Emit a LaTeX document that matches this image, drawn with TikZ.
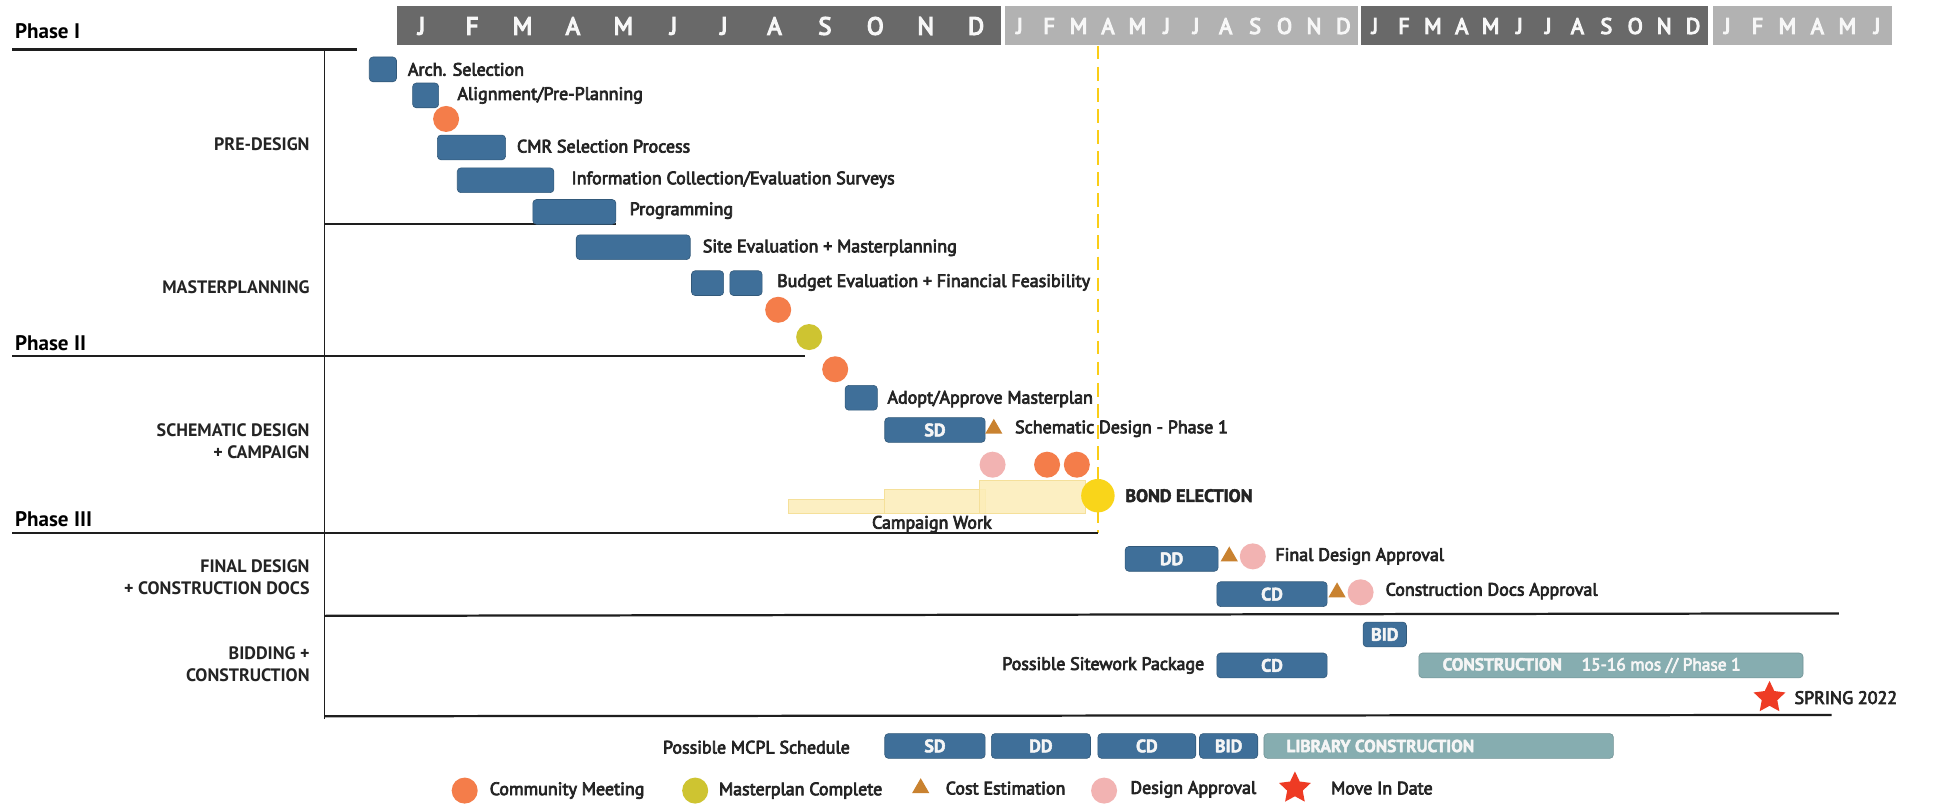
\documentclass[tikz,border=0pt]{standalone}
\usepackage{fontspec}
\setmainfont{PT Sans}
\newfontfamily\medfont{PT Sans}[FakeBold=4]
\newfontfamily\hdrfont{PT Sans}[FakeBold=5]
\newfontfamily\heavyfont{PT Sans Bold}[FakeBold=2.5]
\usetikzlibrary{shapes.geometric}

\definecolor{barblue}{HTML}{3F6F99}
\definecolor{hdrdark}{HTML}{696969}
\definecolor{hdrlight}{HTML}{B2B2B2}
\definecolor{meetorange}{HTML}{F47D4A}
\definecolor{planolive}{HTML}{CEC431}
\definecolor{costtan}{HTML}{C98230}
\definecolor{apppink}{HTML}{F2B3B2}
\definecolor{starred}{HTML}{EE3B24}
\definecolor{bondyellow}{HTML}{F9D51A}
\definecolor{campyellow}{HTML}{FCEDB8}
\definecolor{campedge}{HTML}{F5E09A}
\definecolor{consteal}{HTML}{86ADB0}
\definecolor{inkgray}{HTML}{242424}
\definecolor{ruleink}{HTML}{1E1E1E}

\tikzset{
  taskbar/.style={rounded corners=3pt, fill=barblue, draw=barblue!80!black,
    line width=0.5pt, inner sep=0pt, minimum height=20pt, text=white!96!black,
    font=\heavyfont\fontsize{14.5}{14.5}\selectfont},
  buildbar/.style={taskbar, fill=consteal, draw=consteal!85!black},
  lbl/.style={anchor=west, inner sep=0pt, text=inkgray,
    font=\medfont\fontsize{14.5}{16}\selectfont},
  sect/.style={anchor=east, align=right, inner sep=0pt, text=inkgray,
    font=\bfseries\fontsize{14.5}{17.5}\selectfont},
  phase/.style={anchor=west, inner sep=0pt, text=black,
    font=\bfseries\fontsize{17}{17}\selectfont},
  mon/.style={inner sep=0pt, text=white!97!black, font=\hdrfont\fontsize{20}{20}\selectfont},
  smon/.style={mon, font=\hdrfont\fontsize{18}{18}\selectfont},
  mdot/.style={circle, inner sep=0pt, minimum size=21pt},
  meet/.style={mdot, fill=meetorange},
  olive/.style={mdot, fill=planolive},
  approval/.style={mdot, fill=apppink},
  cost/.style={regular polygon, regular polygon sides=3, fill=costtan,
    inner sep=0pt, minimum size=16pt},
  movein/.style={star, star points=5, star point ratio=2.05, fill=starred,
    inner sep=0pt, minimum size=27pt},
  divider/.style={line width=1.8pt, draw=ruleink},
  campaign/.style={fill=campyellow, fill opacity=0.85, draw=campedge, line width=0.6pt},
}

\begin{document}
\begin{tikzpicture}[x=1pt,y=-1pt]
\useasboundingbox (0,0) rectangle (1568,650);
\fill[white] (0,0) rectangle (1568,650);

% ---- month header ----
\fill[hdrdark]  (320,5)  rectangle (808,36);
\fill[hdrlight] (811,5)  rectangle (1096,36);
\fill[hdrdark]  (1098,5) rectangle (1378,36);
\fill[hdrlight] (1382,5) rectangle (1527,36);
\foreach \l [count=\i] in {J,F,M,A,M,J,J,A,S,O,N,D}
  \node[mon] (ya\i) at ({320+40.67*(\i-0.5)},21) {\l};
\foreach \l [count=\i] in {J,F,M,A,M,J,J,A,S,O,N,D}
  \node[smon] (yb\i) at ({811+23.75*(\i-0.5)},21) {\l};
\foreach \l [count=\i] in {J,F,M,A,M,J,J,A,S,O,N,D}
  \node[smon] (yc\i) at ({1098+23.33*(\i-0.5)},21) {\l};
\foreach \l [count=\i] in {J,F,M,A,M,J}
  \node[smon] (yd\i) at ({1382+24.17*(\i-0.5)},21) {\l};

% ---- bond election date line ----
\coordinate (bondtop) at (886,37);
\coordinate (bondbot) at (886,430);
\draw[bondyellow!90!orange, line width=1.8pt, dash pattern=on 11pt off 6pt] (bondtop) -- (bondbot);

% ---- phase rules and section frame ----
\node[phase] (ph1) at (12,25) {Phase I};
\node[phase] (ph2) at (12,277) {Phase II};
\node[phase] (ph3) at (12,419) {Phase III};

\coordinate (p1a) at (10,40);  \coordinate (p1b) at (288,40);
\coordinate (p2a) at (10,287); \coordinate (p2b) at (650,287);
\coordinate (p3a) at (10,430); \coordinate (p3b) at (886,430);
\coordinate (vtop) at (262,40); \coordinate (vbot) at (262,580);
\coordinate (s1a) at (262,181); \coordinate (s1b) at (497,181);
\coordinate (s4a) at (262,497); \coordinate (s4b) at (1484,495);
\coordinate (s5a) at (262,578); \coordinate (s5b) at (1478,577);
\draw[divider] (p1a) -- (p1b);
\draw[divider] (p2a) -- (p2b);
\draw[divider] (p3a) -- (p3b);
\draw[divider] (s1a) -- (s1b);
\draw[divider] (s4a) -- (s4b);
\draw[divider] (s5a) -- (s5b);
\draw[line width=1.2pt, draw=ruleink] (vtop) -- (vbot);

\node[sect] (sec1) at (250,116) {PRE-DESIGN};
\node[sect] (sec2) at (250,232) {MASTERPLANNING};
\node[sect] (sec3) at (250,356) {SCHEMATIC DESIGN\\+ CAMPAIGN};
\node[sect] (sec4) at (250,466) {FINAL DESIGN\\+ CONSTRUCTION DOCS};
\node[sect] (sec5) at (250,536) {BIDDING +\\CONSTRUCTION};

% ---- pre-design ----
\node[taskbar, minimum width=22pt] (t1) at (309,56) {};
\node[lbl] (l1) at (329,56) {Arch. Selection};
\node[taskbar, minimum width=21pt] (t2) at (343.5,77) {};
\node[lbl] (l2) at (369,77) {Alignment/Pre-Planning};
\node[meet] (c1) at (360,96) {};
\node[taskbar, minimum width=55pt] (t3) at (380.5,119) {};
\node[lbl] (l3) at (417,118) {CMR Selection Process};
\node[taskbar, minimum width=78pt] (t4) at (408,145.5) {};
\node[lbl] (l4) at (461,145) {Information Collection/Evaluation Surveys};
\node[taskbar, minimum width=67pt] (t5) at (463.5,171) {};
\node[lbl] (l5) at (508,170) {Programming};

% ---- masterplanning ----
\node[taskbar, minimum width=92pt] (t6) at (511,199.5) {};
\node[lbl] (l6) at (567,200) {Site Evaluation + Masterplanning};
\node[taskbar, minimum width=26pt] (t7a) at (571,228.5) {};
\node[taskbar, minimum width=26pt] (t7b) at (602,228.5) {};
\node[lbl] (l7) at (627,228) {Budget Evaluation + Financial Feasibility};
\node[meet] (c2) at (628,250) {};
\node[olive] (c3) at (653,272) {};

% ---- schematic design + campaign ----
\node[meet] (c4) at (674,298) {};
\node[taskbar, minimum width=26pt] (t8) at (695,321) {};
\node[lbl] (l8) at (716,322) {Adopt/Approve Masterplan};
\node[taskbar, minimum width=81pt] (sd1) at (754.5,347) {SD};
\node[cost] (e1) at (802,346) {};
\node[lbl] (l9) at (819,346) {Schematic Design - Phase 1};
\node[approval] (a1) at (801,375) {};
\node[meet] (c5) at (845,375) {};
\node[meet] (c6) at (869,375) {};

\filldraw[campaign] (636,403) rectangle (714,414);
\filldraw[campaign] (714,395) rectangle (795,414);
\filldraw[campaign] (790,388) rectangle (876,414);
\node[inner sep=0pt, text=inkgray, font=\medfont\fontsize{14.5}{16}\selectfont] (cw) at (752,423) {Campaign Work};
\node[mdot, fill=bondyellow, minimum size=27pt] (bond) at (886,400) {};
\node[lbl, font=\heavyfont\fontsize{14.5}{16}\selectfont] (lb) at (908,400) {BOND ELECTION};

% ---- final design + construction docs ----
\node[taskbar, minimum width=75pt] (dd1) at (945.5,451) {DD};
\node[cost] (e2) at (992,449) {};
\node[approval] (a2) at (1011,449) {};
\node[lbl] (l10) at (1029,449) {Final Design Approval};
\node[taskbar, minimum width=89pt] (cd1) at (1026.5,479.5) {CD};
\node[cost] (e3) at (1079,478) {};
\node[approval] (a3) at (1098,478) {};
\node[lbl] (l11) at (1118,477) {Construction Docs Approval};

% ---- bidding + construction ----
\node[taskbar, minimum width=35pt] (bid1) at (1117.5,512) {BID};
\node[taskbar, minimum width=89pt] (cd2) at (1026.5,537) {CD};
\node[lbl, anchor=east] (l12) at (972,537) {Possible Sitework Package};
\node[buildbar, minimum width=310pt] (cons) at (1300,537) {};
\node[anchor=west, inner sep=0pt, text=white!96!black, font=\medfont\fontsize{14}{14}\selectfont]
  (consl) at (1164,537) {{\heavyfont CONSTRUCTION}\hspace{16pt}15-16 mos // Phase 1};
\node[movein] (mv) at (1428,563) {};
\node[lbl] (l13) at (1448,563) {SPRING 2022};

% ---- MCPL schedule ----
\node[lbl, anchor=east] (l14) at (686,603) {Possible MCPL Schedule};
\node[taskbar, minimum width=81pt] (msd) at (754.5,602) {SD};
\node[taskbar, minimum width=80pt] (mdd) at (840,602) {DD};
\node[taskbar, minimum width=79pt] (mcd) at (925.5,602) {CD};
\node[taskbar, minimum width=47pt] (mbid) at (991.5,602) {BID};
\node[buildbar, minimum width=282pt] (mlib) at (1161,602) {};
\node[anchor=west, inner sep=0pt, text=white!96!black, font=\heavyfont\fontsize{14}{14}\selectfont]
  (mlibl) at (1038,602) {LIBRARY CONSTRUCTION};

% ---- legend ----
\node[meet] (k1) at (375,638) {};
\node[lbl] (kl1) at (395,638) {Community Meeting};
\node[olive] (k2) at (561,638) {};
\node[lbl] (kl2) at (580,638) {Masterplan Complete};
\node[cost] (k3) at (743,636) {};
\node[lbl] (kl3) at (763,636) {Cost Estimation};
\node[approval] (k4) at (891,638) {};
\node[lbl] (kl4) at (912,637) {Design Approval};
\node[movein] (k5) at (1045,636) {};
\node[lbl] (kl5) at (1074,636) {Move In Date};
\end{tikzpicture}
\end{document}
